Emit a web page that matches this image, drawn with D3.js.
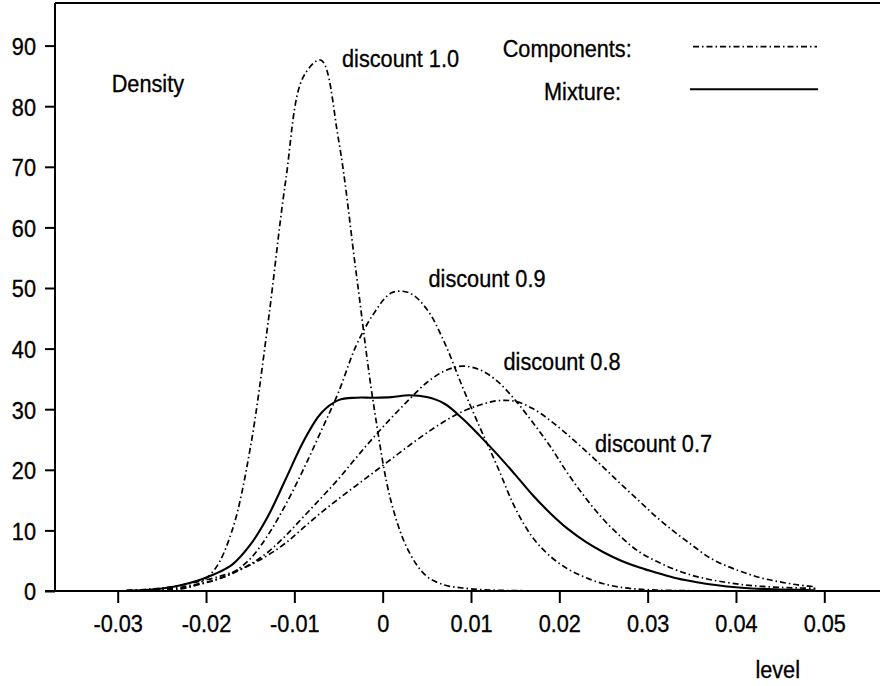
<!DOCTYPE html>
<html>
<head>
<meta charset="utf-8">
<script src="https://cdn.jsdelivr.net/npm/d3@7"></script>
<style>
  html, body { margin: 0; padding: 0; background: #fff; }
  svg { display: block; font-family: "Liberation Sans", Arial, Helvetica, sans-serif; }
  text { fill: #000; stroke: #000; stroke-width: 0.3px; }
</style>
</head>
<body>
<svg id="chart" width="880" height="686"></svg>
<script>
// Grid of "level" values at which the densities are tabulated
const levels = [-0.029,-0.027,-0.025,-0.023,-0.021,-0.019,-0.017,-0.015,-0.013,-0.011,
                -0.009,-0.007,-0.005,-0.003,-0.001,0.001,0.003,0.005,0.007,0.009,
                0.011,0.013,0.015,0.017,0.019,0.021,0.023,0.025,0.027,0.029,
                0.031,0.033,0.035,0.037,0.039,0.041,0.043,0.045,0.047,0.049];

// Component densities, one per discount factor
const discount10 = [0.0,0.02,0.08,0.3,1.1,3.6,10.2,23.5,44.0,67.5,
                    84.8,87.6,74.5,52.5,30.5,14.5,6.4,2.4,1.0,0.5,
                    0.25,0.12,0.06,0.03,0.02,0.02,0.02,0.02,0.02,0.02,
                    0.02,0.02,0.02,0.02,0.02,0.02,0.02,0.02,0.02,0.02];
const discount09 = [0.02,0.05,0.15,0.4,1.0,1.8,3.0,5.3,9.2,14.2,
                    20.0,26.3,32.8,40.5,45.8,49.2,49.2,46.5,41.0,33.8,
                    27.0,20.5,13.7,8.8,5.7,3.6,2.2,1.2,0.6,0.3,
                    0.15,0.08,0.04,0.03,0.02,0.02,0.02,0.02,0.02,0.02];
const discount08 = [0.05,0.12,0.3,0.6,1.1,1.8,2.9,4.4,6.4,9.1,
                    12.2,15.3,18.5,22.0,25.4,28.6,31.6,34.4,36.3,37.1,
                    36.5,34.6,31.5,27.8,23.8,19.3,15.3,11.8,8.9,6.5,
                    4.9,3.6,2.6,1.9,1.4,1.0,0.75,0.6,0.5,0.45];
const discount07 = [0.1,0.25,0.5,0.9,1.5,2.2,3.1,4.3,5.9,7.9,
                    10.4,12.9,15.2,17.4,19.6,21.8,24.0,26.1,28.0,29.6,
                    30.7,31.4,31.3,30.1,28.1,25.7,23.1,20.4,17.6,14.9,
                    12.2,9.8,7.6,5.5,4.1,3.0,2.1,1.5,1.0,0.7];
// Mixture density
const mixture = [0.05,0.15,0.4,0.9,1.7,2.8,4.4,7.6,12.3,18.4,
                 24.6,29.3,31.5,31.9,31.9,32.0,32.3,32.0,30.9,28.5,
                 25.6,22.5,19.2,15.8,12.8,10.2,8.1,6.4,5.0,3.9,
                 3.0,2.2,1.6,1.1,0.75,0.5,0.35,0.25,0.18,0.12];

const componentNames = ["discount 1.0", "discount 0.9", "discount 0.8", "discount 0.7"];
const componentSeries = [discount10, discount09, discount08, discount07];

// Axis ticks
const xTicks = [-0.03,-0.02,-0.01,0,0.01,0.02,0.03,0.04,0.05];
const xTickLabels = ["-0.03","-0.02","-0.01","0","0.01","0.02","0.03","0.04","0.05"];
const yTicks = [0,10,20,30,40,50,60,70,80,90];
const yTickLabels = ["0","10","20","30","40","50","60","70","80","90"];

const svg = d3.select("#chart");
const W = 880;
const FONT = 21.7;
const STRETCH = "scale(1,1.08)";
const DASHDOT = "6,3,1.5,3";

const x = d3.scaleLinear().domain([-0.03, 0.05]).range([117.7, 824.3]);
const y = d3.scaleLinear().domain([0, 90]).range([591, 45.6]);

// Frame: top rule, left axis line, bottom axis line
svg.append("line").attr("x1", 55).attr("x2", W)
  .attr("y1", 3).attr("y2", 3).attr("stroke", "#000").attr("stroke-width", 2);
svg.append("line").attr("x1", 55).attr("x2", 55)
  .attr("y1", 3).attr("y2", y(0)).attr("stroke", "#000").attr("stroke-width", 2);
svg.append("line").attr("x1", 45).attr("x2", W)
  .attr("y1", y(0)).attr("y2", y(0)).attr("stroke", "#000").attr("stroke-width", 2);

// Bottom axis
const gx = svg.append("g").attr("transform", `translate(0,${y(0)})`)
  .call(d3.axisBottom(x).tickValues(xTicks)
    .tickFormat((d, i) => xTickLabels[i]).tickSize(12).tickSizeOuter(0));
gx.select(".domain").remove();
gx.selectAll(".tick line").attr("stroke", "#000").attr("stroke-width", 2);
gx.selectAll(".tick text")
  .attr("y", null).attr("dy", null)
  .attr("transform", `translate(0,40.7) ${STRETCH}`)
  .attr("font-size", FONT).attr("font-family", null).attr("fill", "#000");

// Left axis
const gy = svg.append("g").attr("transform", "translate(55,0)")
  .call(d3.axisLeft(y).tickValues(yTicks)
    .tickFormat((d, i) => yTickLabels[i]).tickSize(10).tickSizeOuter(0));
gy.select(".domain").remove();
gy.selectAll(".tick line").attr("stroke", "#000").attr("stroke-width", 2);
gy.selectAll(".tick text")
  .attr("x", null).attr("dy", null)
  .attr("transform", `translate(-19,8.8) ${STRETCH}`)
  .attr("font-size", FONT).attr("font-family", null).attr("fill", "#000");

// Curves
const line = d3.line()
  .x((d, i) => x(levels[i]))
  .y(d => y(d))
  .curve(d3.curveCatmullRom.alpha(0.5));

const curves = svg.append("g").attr("fill", "none").attr("stroke", "#000");
componentSeries.forEach((s, k) => {
  curves.append("path")
    .attr("class", "component")
    .attr("data-name", componentNames[k])
    .attr("d", line(s))
    .attr("stroke-width", 1.7)
    .attr("stroke-dasharray", DASHDOT);
});
curves.append("path")
  .attr("class", "mixture")
  .attr("d", line(mixture))
  .attr("stroke-width", 2.1);

// Text annotations
function label(px, py, txt, anchor) {
  svg.append("text")
    .attr("transform", `translate(${px},${py}) ${STRETCH}`)
    .attr("text-anchor", anchor || "start")
    .attr("font-size", FONT)
    .text(txt);
}
label(111.7, 91.7, "Density");
label(342, 66.5, componentNames[0]);
label(428.5, 286.5, componentNames[1]);
label(503.5, 370, componentNames[2]);
label(595, 451.7, componentNames[3]);
label(777.7, 678, "level", "middle");

// Legend
label(502.7, 57, "Components:");
label(544, 99.5, "Mixture:");
svg.append("line").attr("x1", 693).attr("x2", 817).attr("y1", 46.7).attr("y2", 46.7)
  .attr("stroke", "#000").attr("stroke-width", 1.7).attr("stroke-dasharray", DASHDOT);
svg.append("line").attr("x1", 690).attr("x2", 818).attr("y1", 89.3).attr("y2", 89.3)
  .attr("stroke", "#000").attr("stroke-width", 2.1);
</script>
</body>
</html>
